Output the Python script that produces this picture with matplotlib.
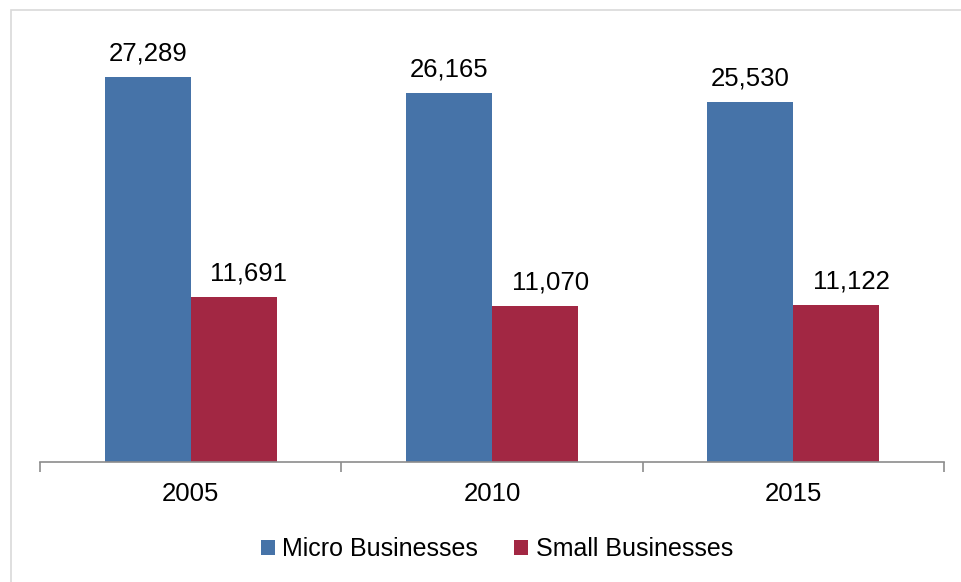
import matplotlib
matplotlib.use("Agg")
import matplotlib.pyplot as plt
from matplotlib.patches import Rectangle
import numpy as np

years = ["2005", "2010", "2015"]
micro = [27289, 26165, 25530]
small = [11691, 11070, 11122]
series_names = ["Micro Businesses", "Small Businesses"]
colors = ["#4673A8", "#A22743"]

plt.rcParams['font.family'] = ['Liberation Sans', 'DejaVu Sans']

W, H = 961, 582
fig = plt.figure(figsize=(W / 100, H / 100), dpi=100)
fig.patch.set_facecolor("white")

# outer light border (top and left visible)
fig.add_artist(Rectangle((11 / W, -0.1), 1.2, 1 - 10 / H + 0.1, transform=fig.transFigure,
                         fill=False, edgecolor="#d9d9d9", linewidth=1.2))

ax = fig.add_axes([40 / W, 1 - 462 / H, (944 - 40) / W, (462 - 39) / H])
x = np.arange(len(years))
bw = 0.285
b1 = ax.bar(x - bw / 2, micro, bw, color=colors[0], label=series_names[0])
b2 = ax.bar(x + bw / 2, small, bw, color=colors[1], label=series_names[1])

for bars, vals, dx in ((b1, micro, 0), (b2, small, 11)):
    for r, v in zip(bars, vals):
        ax.annotate(f"{v:,}", (r.get_x() + r.get_width() / 2, v), xytext=(dx, 8.5),
                    textcoords="offset points", ha="center", va="bottom", fontsize=18.5)

ax.set_xlim(-0.5, len(years) - 0.5)
ax.set_ylim(0, 30000)
for s in ("top", "right", "left"):
    ax.spines[s].set_visible(False)
ax.spines["bottom"].set_color("#8c8c8c")
ax.spines["bottom"].set_linewidth(1.2)
ax.set_yticks([])
ax.set_xticks(np.arange(len(years) + 1) - 0.5)
ax.set_xticklabels([])
ax.set_xticks(x, minor=True)
ax.set_xticklabels(years, minor=True, fontsize=18.5)
ax.tick_params(axis="x", which="major", length=7, color="#8c8c8c", width=1.2)
ax.tick_params(axis="x", which="minor", length=0, pad=14.5)

fig.legend(handles=[b1, b2], labels=series_names, loc="center", bbox_to_anchor=(497 / W, 1 - 549 / H),
           ncol=2, frameon=False, fontsize=18, handlelength=0.56, handleheight=0.56,
           handletextpad=0.3, columnspacing=1.45)

fig.savefig("out.png", dpi=100)
